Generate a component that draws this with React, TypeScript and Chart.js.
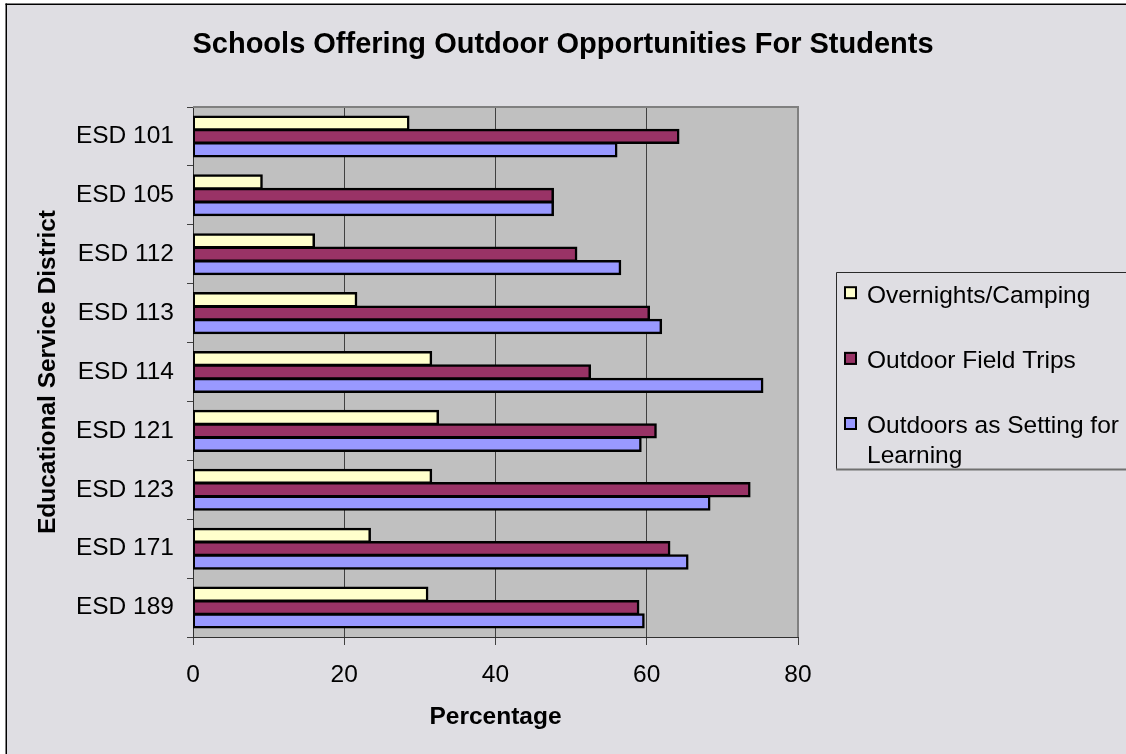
import React, { useEffect, useRef } from "react";
import { Chart, registerables } from "chart.js";

Chart.register(...registerables);

const categories = ["ESD 101", "ESD 105", "ESD 112", "ESD 113", "ESD 114", "ESD 121", "ESD 123", "ESD 171", "ESD 189"];
const seriesNames = ["Overnights/Camping", "Outdoor Field Trips", "Outdoors as Setting for Learning"];
const overnights = [28.5, 9.1, 16.0, 21.6, 31.5, 32.4, 31.5, 23.4, 31.0];
const fieldTrips = [64.2, 47.6, 50.7, 60.3, 52.5, 61.2, 73.6, 63.0, 58.9];
const settingForLearning = [56.0, 47.6, 56.5, 61.9, 75.3, 59.2, 68.3, 65.4, 59.6];
const xMin = 0;
const xMax = 80;
const xStep = 20;
const seriesColors = ["#FFFFCC", "#993366", "#9999FF"];
const legendLines = [["Overnights/Camping"], ["Outdoor Field Trips"], ["Outdoors as Setting for", "Learning"]];
const chartTitle = "Schools Offering Outdoor Opportunities For Students";
const xTitle = "Percentage";
const yTitle = "Educational Service District";

const FAMILY = "'Liberation Sans', Arial, Helvetica, sans-serif";
const BG = "#DFDEE3";
const PLOT_BG = "#C0C0C0";

const framePlugin = {
  id: "excelFrame",
  beforeDraw(chart: any) {
    const { ctx, chartArea: a, width, height } = chart;
    ctx.save();
    ctx.fillStyle = "#ffffff";
    ctx.fillRect(0, 0, width, height);
    ctx.fillStyle = BG;
    ctx.fillRect(6, 4, width, height);
    ctx.fillStyle = "#000000";
    ctx.fillRect(5.5, 3.5, width, 1.5);
    ctx.fillRect(5.5, 3.5, 1.5, height);
    ctx.fillStyle = PLOT_BG;
    ctx.fillRect(a.left, a.top, a.right - a.left, a.bottom - a.top);
    ctx.restore();
  },
  beforeDatasetsDraw(chart: any) {
    const { ctx, chartArea: a } = chart;
    ctx.save();
    ctx.fillStyle = "#808080";
    ctx.fillRect(a.left, a.top - 1, a.right - a.left + 1, 2);
    ctx.fillRect(a.right - 1, a.top - 1, 2, a.bottom - a.top + 1);
    ctx.restore();
  },
  afterDraw(chart: any) {
    const { ctx, width } = chart;
    ctx.save();
    // chart title, centred on the whole chart
    ctx.fillStyle = "#000";
    ctx.font = `bold 29px ${FAMILY}`;
    ctx.textAlign = "center";
    ctx.textBaseline = "middle";
    ctx.fillText(chartTitle, width / 2, 45);

    // legend box
    const lx = 836.5, ly = 272.5, lb = 469.5;
    ctx.strokeStyle = "#2a2a2a";
    ctx.lineWidth = 1;
    ctx.beginPath();
    ctx.moveTo(width + 2, ly);
    ctx.lineTo(lx, ly);
    ctx.lineTo(lx, lb);
    ctx.stroke();
    ctx.fillStyle = "#707070";
    ctx.fillRect(lx - 0.5, lb - 1, width, 2);

    const baselines = [302.5, 368.2, 433.3];
    ctx.font = `24.5px ${FAMILY}`;
    ctx.textBaseline = "alphabetic";
    ctx.textAlign = "left";
    legendLines.forEach((lines, i) => {
      const base = baselines[i];
      const capCenter = base - 8.8;
      ctx.fillStyle = seriesColors[i];
      ctx.fillRect(844, capCenter - 7.5, 13, 13);
      ctx.strokeStyle = "#000";
      ctx.lineWidth = 2;
      ctx.strokeRect(845, capCenter - 6.5, 11, 11);
      ctx.fillStyle = "#000";
      lines.forEach((t, j) => ctx.fillText(t, 867, base + j * 30));
    });
    ctx.restore();
  },
};

export default function App() {
  const ref = useRef<HTMLCanvasElement>(null);

  useEffect(() => {
    if (!ref.current) return;
    const seriesData = [overnights, fieldTrips, settingForLearning];
    const chart = new Chart(ref.current, {
      type: "bar",
      data: {
        labels: categories,
        datasets: seriesNames.map((name, i) => ({
          label: name,
          data: seriesData[i],
          backgroundColor: seriesColors[i],
          borderColor: "#000000",
          borderWidth: 2.5,
          borderSkipped: false,
          inflateAmount: 1,
          categoryPercentage: 0.68,
          barPercentage: 1,
        })),
      },
      options: {
        indexAxis: "y",
        animation: false,
        responsive: false,
        devicePixelRatio: 1,
        events: [],
        layout: { padding: { left: 0, top: 107, right: 328, bottom: 0 } },
        plugins: {
          legend: { display: false },
          tooltip: { enabled: false },
          title: { display: false },
        },
        scales: {
          x: {
            type: "linear",
            position: "bottom",
            min: xMin,
            max: xMax,
            ticks: {
              stepSize: xStep,
              color: "#000",
              font: { family: FAMILY, size: 24.5 },
              padding: 16,
            },
            grid: {
              color: (c: any) => (c.tick && c.tick.value === xMax ? "#808080" : "#404040"),
              lineWidth: 1,
              tickLength: 8,
              tickColor: "#404040",
            },
            border: { display: true, color: "#303030", width: 1 },
            title: {
              display: true,
              text: xTitle,
              color: "#000",
              font: { family: FAMILY, size: 24.5, weight: "bold", lineHeight: 1.2 },
              padding: { top: 0, bottom: 22 },
            },
            afterFit: (s: any) => {
              s.height = 117;
            },
          },
          y: {
            type: "category",
            position: "left",
            ticks: {
              color: "#000",
              font: { family: FAMILY, size: 24.5 },
              padding: 13,
            },
            grid: {
              offset: true,
              drawOnChartArea: false,
              tickLength: 6,
              tickColor: "#404040",
              color: "#404040",
            },
            border: { display: true, color: "#303030", width: 1 },
            title: {
              display: true,
              text: yTitle,
              color: "#000",
              font: { family: FAMILY, size: 24.5, weight: "bold", lineHeight: 1.2 },
              padding: { top: 33.3, bottom: 0 },
            },
            afterFit: (s: any) => {
              s.width = 193;
            },
          },
        },
      } as any,
      plugins: [framePlugin],
    });
    return () => chart.destroy();
  }, []);

  return (
    <div style={{ position: "absolute", left: 0, top: 0, width: 1126, height: 754 }}>
      <canvas ref={ref} width={1126} height={754} style={{ display: "block", width: 1126, height: 754 }} />
    </div>
  );
}
